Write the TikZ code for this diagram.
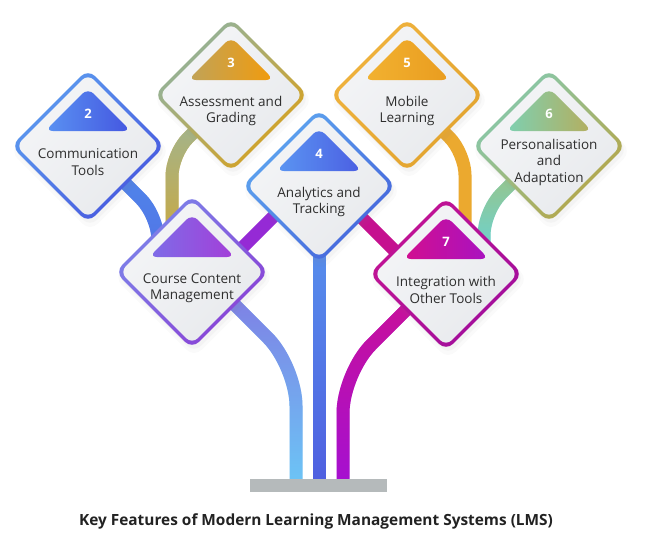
\documentclass[tikz,border=0pt]{standalone}
\usepackage{fontspec}
\setmainfont{Open Sans}
\usetikzlibrary{shapes.geometric,shadows,fadings,calc}
\pgfdeclarelayer{bg}
\pgfsetlayers{bg,main}
% colours
\definecolor{txt}{HTML}{2E2E2E}
\definecolor{title}{HTML}{222222}
\definecolor{basegray}{HTML}{B5BABB}
\definecolor{innerA}{HTML}{F4F5F7}
\definecolor{innerB}{HTML}{E8EAED}
\definecolor{bTwoA}{HTML}{5C9DF0}\definecolor{bTwoB}{HTML}{4756DE}
\definecolor{gTwoA}{HTML}{5A92F2}\definecolor{gTwoB}{HTML}{4456E0}
\definecolor{bThrA}{HTML}{8DB4A4}\definecolor{bThrB}{HTML}{D9A11C}
\definecolor{gThrA}{HTML}{BFA35A}\definecolor{gThrB}{HTML}{F29B0C}
\definecolor{bFouA}{HTML}{5FA8F0}\definecolor{bFouB}{HTML}{4463DB}
\definecolor{gFouA}{HTML}{5B96F2}\definecolor{gFouB}{HTML}{4B5EE2}
\definecolor{bFivA}{HTML}{F0B33E}\definecolor{bFivB}{HTML}{E2A32E}
\definecolor{gFivA}{HTML}{F2B231}\definecolor{gFivB}{HTML}{E99C1F}
\definecolor{bSixA}{HTML}{84CBB2}\definecolor{bSixB}{HTML}{B8A443}
\definecolor{gSixA}{HTML}{7DD0B2}\definecolor{gSixB}{HTML}{B5AE5E}
\definecolor{bOneA}{HTML}{7C86EA}\definecolor{bOneB}{HTML}{8A3FD5}
\definecolor{gOneA}{HTML}{7D6DE8}\definecolor{gOneB}{HTML}{A43ED8}
\definecolor{bSevA}{HTML}{C41494}\definecolor{bSevB}{HTML}{A00E9C}
\definecolor{gSevA}{HTML}{D20F8F}\definecolor{gSevB}{HTML}{A812C2}
% band colours
\definecolor{cTwoOneA}{HTML}{4E8CEB}\definecolor{cTwoOneB}{HTML}{5470E6}
\definecolor{cThrOneA}{HTML}{98B8A2}\definecolor{cThrOneB}{HTML}{D6A52A}
\definecolor{cOneFou}{HTML}{952AD5}
\definecolor{cFouSev}{HTML}{C5118F}
\definecolor{cFouBaseA}{HTML}{5A9CF0}\definecolor{cFouBaseB}{HTML}{4F5FE0}
\definecolor{cOneBaseA}{HTML}{8275E2}\definecolor{cOneBaseB}{HTML}{6CC6F6}
\definecolor{cSevBaseA}{HTML}{CE1091}\definecolor{cSevBaseB}{HTML}{A510D2}
\definecolor{cFivSev}{HTML}{EBA92F}
\definecolor{cSixSevA}{HTML}{AABF6E}\definecolor{cSixSevB}{HTML}{5CD8EA}

\newcommand{\featbox}[8]{%
  \node[outerd, top color=#3, bottom color=#4, shading angle=45] (#1) at (#2) {};
  \node[innerd] (#1in) at (#1.center) {};
  \shade[rounded corners=8pt, left color=#5, right color=#6]
     ([shift={(-43,-15)}]#1.center) -- ([shift={(0,-58)}]#1.center)
     -- ([shift={(43,-15)}]#1.center) -- cycle;
  \node[numtxt] (#1n) at ([shift={(0,-32)}]#1.center) {#7};
  \node[feattxt] (#1t) at ([shift={(0,16)}]#1.center) {#8};
}

\begin{document}
\begin{tikzpicture}[x=1pt,y=-1pt,
  outerd/.style={diamond, aspect=1, inner sep=0pt, minimum width=154pt, minimum height=154pt,
     rounded corners=10pt,
     drop shadow={shadow xshift=2pt, shadow yshift=-4pt, opacity=0.05, shadow scale=1.0},
     drop shadow={shadow xshift=2pt, shadow yshift=-5pt, opacity=0.04, shadow scale=1.04}},
  innerd/.style={diamond, aspect=1, inner sep=0pt, minimum width=144pt, minimum height=144pt,
     rounded corners=8pt, top color=innerA, bottom color=innerB, shading angle=45},
  numtxt/.style={text=white, font=\fontsize{13}{15}\selectfont\bfseries},
  feattxt/.style={text=txt, align=center, font=\fontsize{13.5}{16.5}\selectfont},
  band/.style={line width=13pt, draw=#1},
  gband/.style 2 args={line width=13pt, draw=#2, postaction={draw=#1, path fading=south}},
]
\useasboundingbox (0,0) rectangle (650,549);

\featbox{d2}{88,146}{bTwoA}{bTwoB}{gTwoA}{gTwoB}{2}{Communication\\Tools}
\featbox{d3}{231,95}{bThrA}{bThrB}{gThrA}{gThrB}{3}{Assessment and\\Grading}
\featbox{d5}{407,95}{bFivA}{bFivB}{gFivA}{gFivB}{5}{Mobile\\Learning}
\featbox{d6}{549,146}{bSixA}{bSixB}{gSixA}{gSixB}{6}{Personalisation\\and\\Adaptation}
\featbox{d4}{319,186}{bFouA}{bFouB}{gFouA}{gFouB}{4}{Analytics and\\Tracking}
\featbox{d1}{192,272}{bOneA}{bOneB}{gOneA}{gOneB}{}{Course Content\\Management}
\featbox{d7}{446,274}{bSevA}{bSevB}{gSevA}{gSevB}{7}{Integration with\\Other Tools}

\node[fill=basegray, minimum width=137pt, minimum height=13pt, inner sep=0pt] (base) at (318.5,485.5) {};

\node[text=title, font=\fontsize{15.4}{18}\selectfont\bfseries] (ttl) at (316,521)
  {Key Features of Modern Learning Management Systems (LMS)};

\coordinate (k21) at (158,216);
\coordinate (k31) at (172,154);
\coordinate (k57) at (465,153);
\coordinate (k67) at (484,211);
\coordinate (k1) at (296,366);
\coordinate (k7) at (343,373);

\begin{pgfonlayer}{bg}
  \fill[white] (0,0) rectangle (650,549);
  \draw[gband={cTwoOneA}{cTwoOneB}, rounded corners=24pt] (d2.center) -- (k21) -- (k21 |- d1);
  \draw[gband={cThrOneA}{cThrOneB}, rounded corners=22pt] (d3.center) -- (k31) -- (k31 |- d1);
  \draw[band=cFivSev, rounded corners=22pt] (d5.center) -- (k57) -- (k57 |- d7);
  \draw[gband={cSixSevA}{cSixSevB}, rounded corners=24pt] (d6.center) -- (k67) -- (k67 |- d7);
  \draw[band=cOneFou] ([shift={(33,-7)}]d1.center) -- ([shift={(-34,19)}]d4.center);
  \draw[band=cFouSev] ([shift={(21,10)}]d4.center) -- ([shift={(-26,2)}]d7.center);
  \draw[gband={cFouBaseA}{cFouBaseB}] (d4.center) -- (d4 |- base.north);
  \draw[gband={cOneBaseA}{cOneBaseB}, rounded corners=40pt] ([shift={(8,-2)}]d1.center) -- (k1) -- (k1 |- base.north);
  \draw[gband={cSevBaseA}{cSevBaseB}, rounded corners=40pt] ([shift={(-6,2)}]d7.center) -- (k7) -- (k7 |- base.north);
\end{pgfonlayer}
\end{tikzpicture}
\end{document}
